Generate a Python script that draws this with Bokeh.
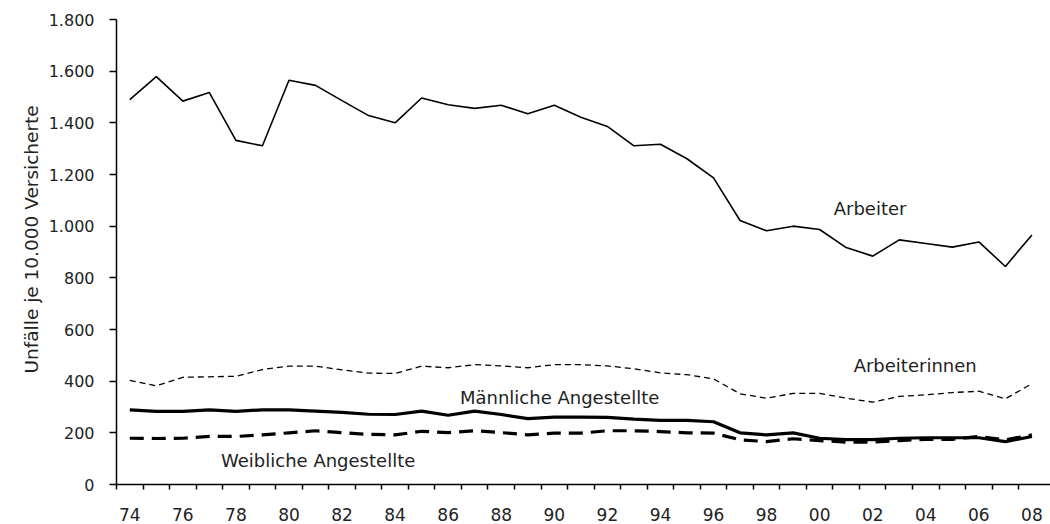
from bokeh.plotting import figure
from bokeh.models import Range1d, FixedTicker, Title
from bokeh.core.properties import value
from bokeh.embed import file_html
from bokeh.resources import INLINE

years = list(range(74, 109))  # 1974..2008
year_labels = ["74", "76", "78", "80", "82", "84", "86", "88", "90", "92", "94",
               "96", "98", "00", "02", "04", "06", "08"]
y_ticks = [0, 200, 400, 600, 800, 1000, 1200, 1400, 1600, 1800]
y_tick_labels = ["0", "200", "400", "600", "800", "1.000", "1.200", "1.400", "1.600", "1.800"]

arbeiter = [1490, 1579, 1484, 1517, 1332, 1311, 1565, 1545, 1486, 1428, 1400,
            1496, 1470, 1456, 1468, 1435, 1468, 1422, 1386, 1311, 1317, 1261,
            1187, 1022, 982, 1000, 987, 917, 884, 947, 933, 919, 939, 844, 966]
arbeiterinnen = [403, 382, 415, 417, 419, 445, 458, 458, 444, 431, 430,
                 458, 452, 464, 459, 452, 464, 464, 459, 448, 432, 425,
                 409, 351, 334, 353, 353, 334, 319, 341, 347, 356, 361, 332, 390]
maennl_angest = [289, 283, 283, 289, 283, 289, 289, 284, 279, 272, 271,
                 284, 268, 284, 271, 255, 261, 261, 260, 253, 248, 248,
                 243, 200, 192, 200, 179, 174, 174, 179, 181, 181, 181, 166, 186]
weibl_angest = [179, 178, 179, 186, 186, 192, 200, 208, 201, 194, 192,
                206, 201, 208, 201, 192, 199, 199, 208, 208, 205, 200,
                199, 173, 166, 177, 170, 164, 164, 170, 175, 175, 186, 173, 192]

series_names = ["Arbeiter", "Arbeiterinnen", "Männliche Angestellte", "Weibliche Angestellte"]
y_title = "Unfälle je 10.000 Versicherte"

FONT = "DejaVu Sans"
TXT = "#222222"

p = figure(width=1050, height=524, output_backend="svg", toolbar_location=None,
           x_range=Range1d(73.5, 108.7), y_range=Range1d(0, 1800),
           min_border_left=116, min_border_top=19, min_border_right=0, min_border_bottom=40)
p.outline_line_color = None
p.xgrid.visible = False
p.ygrid.visible = False
p.background_fill_color = "white"

p.line(years, arbeiter, line_color="black", line_width=1.6)
p.line(years, arbeiterinnen, line_color="black", line_width=1.3, line_dash="6 4")
p.line(years, maennl_angest, line_color="black", line_width=3.2)
p.line(years, weibl_angest, line_color="black", line_width=3.2, line_dash="14 8")

# x axis
xa = p.xaxis[0]
major_x = list(range(74, 109, 2))
xa.ticker = FixedTicker(ticks=major_x, minor_ticks=[y - 0.5 for y in years])
xa.major_label_overrides = {t: l for t, l in zip(major_x, year_labels)}
xa.major_tick_out = 0
xa.major_tick_in = 0
xa.minor_tick_out = 5
xa.minor_tick_in = 0
xa.minor_tick_line_color = "black"
xa.minor_tick_line_width = 1.5
xa.axis_line_color = "black"
xa.axis_line_width = 1.5
xa.major_label_text_font = FONT
xa.major_label_text_font_size = "17px"
xa.major_label_text_color = TXT
xa.major_label_standoff = 18

# y axis
ya = p.yaxis[0]
ya.ticker = FixedTicker(ticks=y_ticks, minor_ticks=[])
ya.major_label_overrides = {t: l for t, l in zip(y_ticks, y_tick_labels)}
ya.major_tick_out = 7
ya.major_tick_in = 0
ya.major_tick_line_color = "black"
ya.major_tick_line_width = 1.5
ya.axis_line_color = "black"
ya.axis_line_width = 1.5
ya.major_label_text_font = FONT
ya.major_label_text_font_size = "16px"
ya.major_label_text_color = TXT
ya.major_label_standoff = 15

# rotated y axis title
p.add_layout(Title(text=y_title, align="left", offset=111, standoff=8,
                   text_font=FONT, text_font_size="18.5px", text_font_style="normal",
                   text_color=TXT), "left")

# series annotations
lab_x = [101.9, 103.6, 90.2, 81.1]
lab_y = [1068, 461, 338, 93]
p.text(x=lab_x, y=lab_y, text=series_names, text_align="center", text_baseline="middle",
       text_font=value(FONT), text_font_size="18px", text_color=TXT)

open("out.html", "w").write(file_html(p, INLINE))
